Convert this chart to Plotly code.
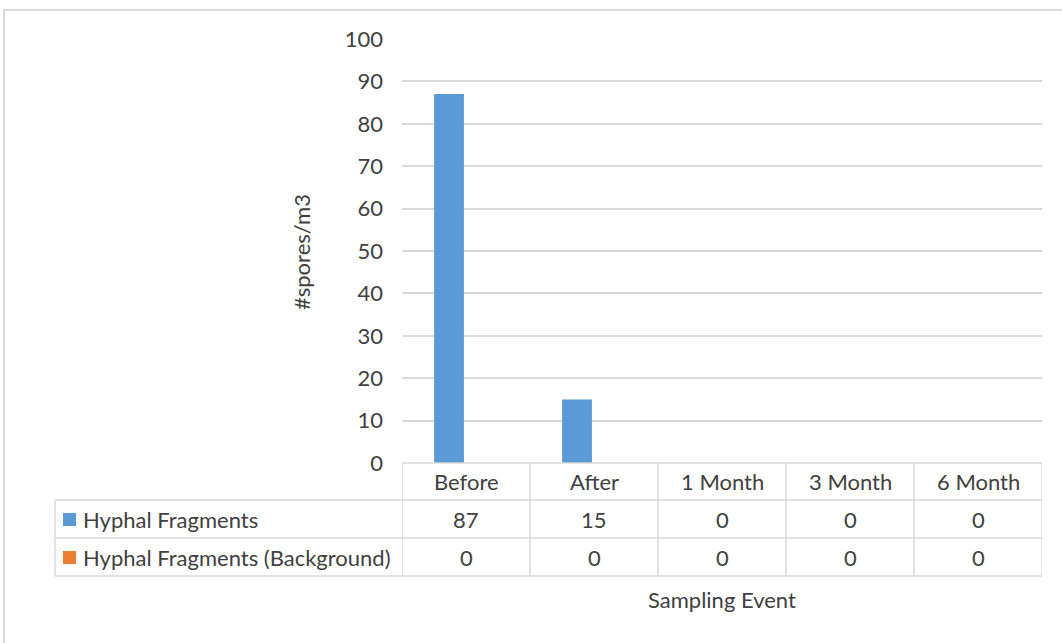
import plotly.graph_objects as go

# ---- data ----
categories = ["Before", "After", "1 Month", "3 Month", "6 Month"]
series_names = ["Hyphal Fragments", "Hyphal Fragments (Background)"]
hyphal = [87, 15, 0, 0, 0]
background = [0, 0, 0, 0, 0]
colors = ["#5B9BD5", "#ED7D31"]
y_ticks = list(range(0, 101, 10))

W, H = 1062, 643
FONT = "Lato"
TXT = "#404040"
GRID = "#d9d9d9"
FS = 22


def px(x):
    return x / W


def py(y):
    return 1 - y / H


# plot area in pixels
PL, PR, PT, PB = 402, 1042, 39, 463
ROW_Y = [463, 500, 538, 576]
TABLE_L = 55

fig = go.Figure()
for name, vals, c in zip(series_names, [hyphal, background], colors):
    fig.add_trace(go.Bar(x=categories, y=vals, name=name, marker_color=c,
                         marker_line_width=0, showlegend=False))

shapes = []
# outer frame
shapes.append(dict(type="rect", xref="paper", yref="paper", x0=px(4), x1=px(1080),
                   y0=py(10), y1=py(700), line=dict(color="#d0d0d0", width=1.5),
                   fillcolor="rgba(0,0,0,0)", layer="below"))
# table horizontal lines
for i, yy in enumerate(ROW_Y):
    x0 = PL if i == 0 else TABLE_L
    shapes.append(dict(type="line", xref="paper", yref="paper", x0=px(x0), x1=px(PR),
                       y0=py(yy), y1=py(yy), line=dict(color=GRID, width=1.5)))
# table vertical lines
shapes.append(dict(type="line", xref="paper", yref="paper", x0=px(TABLE_L), x1=px(TABLE_L),
                   y0=py(ROW_Y[1]), y1=py(ROW_Y[3]), line=dict(color=GRID, width=1.5)))
for i in range(len(categories) + 1):
    shapes.append(dict(type="line", xref="x", yref="paper", x0=i - 0.5, x1=i - 0.5,
                       y0=py(ROW_Y[0]), y1=py(ROW_Y[3]), line=dict(color=GRID, width=1.5)))
# legend keys
for r, c in enumerate(colors):
    yc = (ROW_Y[r + 1] + ROW_Y[r + 2]) / 2
    shapes.append(dict(type="rect", xref="paper", yref="paper", x0=px(63), x1=px(76),
                       y0=py(yc - 6), y1=py(yc + 7), fillcolor=c, line=dict(width=0)))

annotations = []
font = dict(family=FONT, size=FS, color=TXT)
hy = (ROW_Y[0] + ROW_Y[1]) / 2
for cat in categories:
    annotations.append(dict(x=cat, xref="x", y=py(hy), yref="paper", text=cat,
                            showarrow=False, font=font, xanchor="center", yanchor="middle"))
for r, (name, vals) in enumerate(zip(series_names, [hyphal, background])):
    yc = (ROW_Y[r + 1] + ROW_Y[r + 2]) / 2
    annotations.append(dict(x=px(81), xref="paper", y=py(yc), yref="paper", text=name,
                            showarrow=False, font=font, xanchor="left", yanchor="middle"))
    for cat, v in zip(categories, vals):
        annotations.append(dict(x=cat, xref="x", y=py(yc), yref="paper", text=str(v),
                                showarrow=False, font=font, xanchor="center", yanchor="middle"))
# axis titles
annotations.append(dict(x=px(302), xref="paper", y=py(252), yref="paper", text="#spores/m3",
                        textangle=-90, showarrow=False, font=font,
                        xanchor="center", yanchor="middle"))
annotations.append(dict(x=px(722), xref="paper", y=py(599), yref="paper", text="Sampling Event",
                        showarrow=False, font=font, xanchor="center", yanchor="middle"))

fig.update_layout(
    width=W, height=H,
    margin=dict(l=0, r=0, t=0, b=0, pad=0, autoexpand=False),
    paper_bgcolor="white", plot_bgcolor="white",
    barmode="group", bargap=0.47, bargroupgap=0.12,
    font=dict(family=FONT, size=FS, color=TXT),
    xaxis=dict(domain=[px(PL), px(PR)], range=[-0.5, len(categories) - 0.5],
               showticklabels=False, showgrid=False, zeroline=False, showline=False,
               ticks="", automargin=False),
    yaxis=dict(domain=[py(PB), py(PT)], range=[0, 100], tickvals=y_ticks,
               showgrid=True, gridcolor=GRID, gridwidth=1.5, zeroline=False,
               showline=False, ticks="", ticklabelstandoff=18, automargin=False,
               tickfont=dict(family=FONT, size=FS, color=TXT)),
    shapes=shapes, annotations=annotations,
    showlegend=False,
)

fig.write_html("out.html", config={"displayModeBar": False},
               post_script="document.body.style.margin='0';document.body.style.overflow='hidden';")
